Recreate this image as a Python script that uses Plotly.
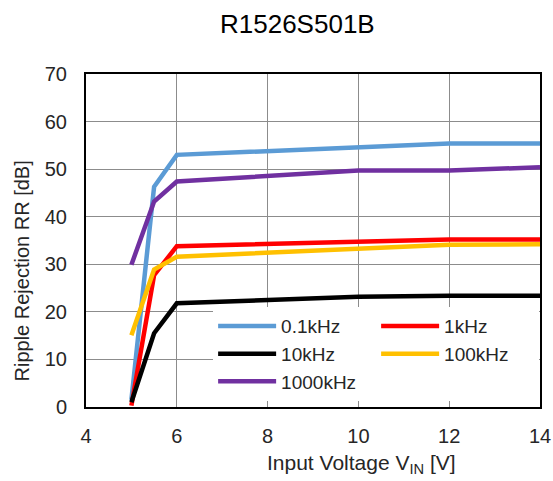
import plotly.graph_objects as go

vin = [5, 5.5, 6, 10, 12, 14]
rr_01k = [1.5, 46.3, 53.0, 54.6, 55.4, 55.4]
rr_1k = [0.3, 27.7, 33.8, 34.8, 35.2, 35.2]
rr_10k = [1.0, 15.5, 21.8, 23.2, 23.4, 23.4]
rr_100k = [15.1, 28.9, 31.6, 33.4, 34.1, 34.2]
rr_1000k = [29.9, 43.2, 47.4, 49.7, 49.7, 50.4]

names = ["0.1kHz", "1kHz", "10kHz", "100kHz", "1000kHz"]
series = [rr_01k, rr_1k, rr_10k, rr_100k, rr_1000k]
colors = ["#5B9BD5", "#FF0000", "#000000", "#FFC000", "#7030A0"]

fig = go.Figure()
for n, s, c in zip(names, series, colors):
    fig.add_trace(go.Scatter(x=vin, y=s, name=n, mode="lines",
                             line=dict(color=c, width=4.5)))

font = "Liberation Sans, Arial, sans-serif"
fig.update_layout(
    width=553, height=481,
    margin=dict(l=86, r=13, t=74, b=74, autoexpand=False),
    paper_bgcolor="white", plot_bgcolor="white",
    font=dict(family=font, color="#262626", size=20),
    showlegend=True,
    legend=dict(
        x=0.28, y=0.30, xanchor="left", yanchor="top",
        orientation="h", entrywidth=90, itemwidth=58,
        bgcolor="white", borderwidth=0,
        font=dict(size=19, color="#262626"),
        traceorder="normal",
    ),
    xaxis=dict(range=[4, 14], dtick=2, tick0=4, automargin=False,
               showgrid=True, gridcolor="#8c8c8c", gridwidth=1,
               showline=True, linecolor="black", linewidth=2, mirror=True,
               ticks="", ticklabelstandoff=10, zeroline=False),
    yaxis=dict(range=[0, 70], dtick=10, automargin=False,
               showgrid=True, gridcolor="#8c8c8c", gridwidth=1,
               showline=True, linecolor="black", linewidth=2, mirror=True,
               ticks="", ticklabelstandoff=13, zeroline=False),
    annotations=[
        dict(text="R1526S501B", xref="paper", yref="paper",
             x=0.465, y=1, yshift=50, xanchor="center", yanchor="middle",
             showarrow=False, font=dict(size=26, color="#000000")),
        dict(text="Input Voltage V<sub>IN</sub> [V]", xref="paper", yref="paper",
             x=0.606, y=0, yshift=-57, xanchor="center", yanchor="middle",
             showarrow=False, font=dict(size=21, color="#262626")),
        dict(text="Ripple Rejection RR [dB]", xref="paper", yref="paper",
             x=-0.141, y=0.41, textangle=-90, xanchor="center", yanchor="middle",
             showarrow=False, font=dict(size=20, color="#262626")),
    ],
)

fig.write_html("out.html", config={"displayModeBar": False},
               post_script="document.body.style.margin='0';document.body.style.overflow='hidden';")
